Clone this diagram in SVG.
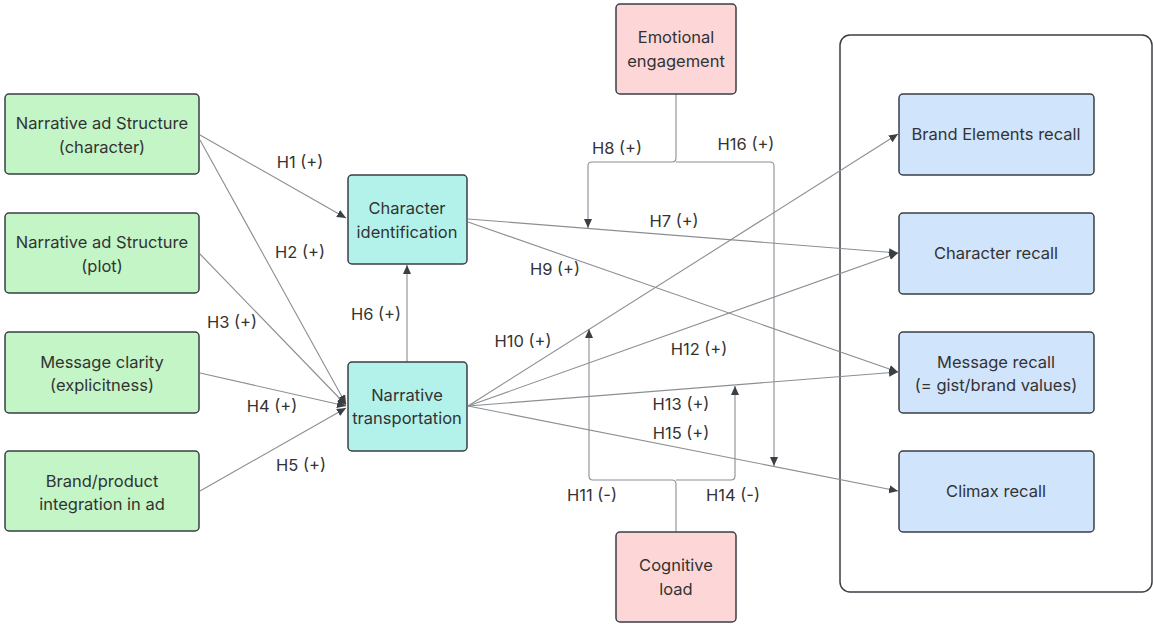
<svg xmlns="http://www.w3.org/2000/svg" width="1153" height="624" viewBox="0 0 1153 624">
<style>
text{font-family:Inter,"Liberation Sans",sans-serif;font-size:16.5px;fill:#333;text-anchor:middle}
.lb{font-size:16.5px}
.box{stroke:#3a3f44;stroke-width:1.5}
.g{fill:#c3f5c6}.c{fill:#b3f2ea}.p{fill:#fdd7d8}.b{fill:#d0e4fc}
.ln{fill:none;stroke:#8a8f94;stroke-width:1.1}
</style>
<defs>
<marker id="ah" markerWidth="10" markerHeight="10" refX="9" refY="5" orient="auto" markerUnits="userSpaceOnUse">
<path d="M0,1 L9,5 L0,9 Z" fill="#3a3f44"/>
</marker>
</defs>
<rect x="840" y="35" width="312" height="557" rx="10" fill="#fff" stroke="#3a3f44" stroke-width="1.5"/>
<g id="connectors">
<line class="ln" x1="200" y1="135" x2="346" y2="218" marker-end="url(#ah)"/>
<line class="ln" x1="200" y1="140" x2="346" y2="404" marker-end="url(#ah)"/>
<line class="ln" x1="200" y1="254" x2="346" y2="405" marker-end="url(#ah)"/>
<line class="ln" x1="200" y1="373" x2="346" y2="406" marker-end="url(#ah)"/>
<line class="ln" x1="200" y1="491" x2="346" y2="408" marker-end="url(#ah)"/>
<line class="ln" x1="407" y1="362" x2="407" y2="265" marker-end="url(#ah)"/>
<line class="ln" x1="468" y1="219" x2="898" y2="253" marker-end="url(#ah)"/>
<line class="ln" x1="468" y1="222" x2="898" y2="372" marker-end="url(#ah)"/>
<line class="ln" x1="468" y1="406" x2="898" y2="134" marker-end="url(#ah)"/>
<line class="ln" x1="468" y1="406" x2="898" y2="253" marker-end="url(#ah)"/>
<line class="ln" x1="468" y1="406" x2="898" y2="372" marker-end="url(#ah)"/>
<line class="ln" x1="468" y1="406" x2="898" y2="491" marker-end="url(#ah)"/>
<path class="ln" d="M676,94 V158 Q676,162 672,162 H592 Q588,162 588,166 V228" marker-end="url(#ah)"/>
<path class="ln" d="M676,162 H770 Q774,162 774,166 V466" marker-end="url(#ah)"/>
<path class="ln" d="M676,532 V484 Q676,480 672,480 H593 Q589,480 589,476 V329" marker-end="url(#ah)"/>
<path class="ln" d="M676,480 H731 Q735,480 735,476 V386" marker-end="url(#ah)"/>
</g>
<g id="labels">
<text class="lb" x="300" y="168">H1 (+)</text>
<text class="lb" x="300" y="258">H2 (+)</text>
<text class="lb" x="232" y="328">H3 (+)</text>
<text class="lb" x="272" y="412">H4 (+)</text>
<text class="lb" x="301" y="471">H5 (+)</text>
<text class="lb" x="376" y="320">H6 (+)</text>
<text class="lb" x="674" y="227">H7 (+)</text>
<text class="lb" x="617" y="154">H8 (+)</text>
<text class="lb" x="555" y="275">H9 (+)</text>
<text class="lb" x="523" y="347">H10 (+)</text>
<text class="lb" x="592" y="501">H11 (-)</text>
<text class="lb" x="699" y="355">H12 (+)</text>
<text class="lb" x="681" y="410">H13 (+)</text>
<text class="lb" x="733" y="501">H14 (-)</text>
<text class="lb" x="681" y="439">H15 (+)</text>
<text class="lb" x="746" y="150">H16 (+)</text>
</g>
<g id="n1"><rect class="box g" x="5" y="94" width="194" height="80" rx="4"/><text x="102" y="129">Narrative ad Structure</text><text x="102" y="153">(character)</text></g>
<g id="n2"><rect class="box g" x="5" y="213" width="194" height="80" rx="4"/><text x="102" y="248">Narrative ad Structure</text><text x="102" y="272">(plot)</text></g>
<g id="n3"><rect class="box g" x="5" y="332" width="194" height="81" rx="4"/><text x="102" y="368">Message clarity</text><text x="102" y="391">(explicitness)</text></g>
<g id="n4"><rect class="box g" x="5" y="451" width="194" height="80" rx="4"/><text x="102" y="487">Brand/product</text><text x="102" y="510">integration in ad</text></g>
<g id="ci"><rect class="box c" x="348" y="175" width="119" height="89" rx="4"/><text x="407" y="214">Character</text><text x="407" y="238">identification</text></g>
<g id="nt"><rect class="box c" x="348" y="362" width="119" height="89" rx="4"/><text x="407" y="401">Narrative</text><text x="407" y="424">transportation</text></g>
<g id="ee"><rect class="box p" x="616" y="4" width="120" height="90" rx="4"/><text x="676" y="43">Emotional</text><text x="676" y="67">engagement</text></g>
<g id="cl"><rect class="box p" x="616" y="532" width="120" height="90" rx="4"/><text x="676" y="571">Cognitive</text><text x="676" y="595">load</text></g>
<g id="r1"><rect class="box b" x="899" y="94" width="195" height="81" rx="4"/><text x="996" y="140">Brand Elements recall</text></g>
<g id="r2"><rect class="box b" x="899" y="213" width="195" height="81" rx="4"/><text x="996" y="259">Character recall</text></g>
<g id="r3"><rect class="box b" x="899" y="332" width="195" height="81" rx="4"/><text x="996" y="368">Message recall</text><text x="996" y="391">(= gist/brand values)</text></g>
<g id="r4"><rect class="box b" x="899" y="451" width="195" height="81" rx="4"/><text x="996" y="497">Climax recall</text></g>
</svg>
